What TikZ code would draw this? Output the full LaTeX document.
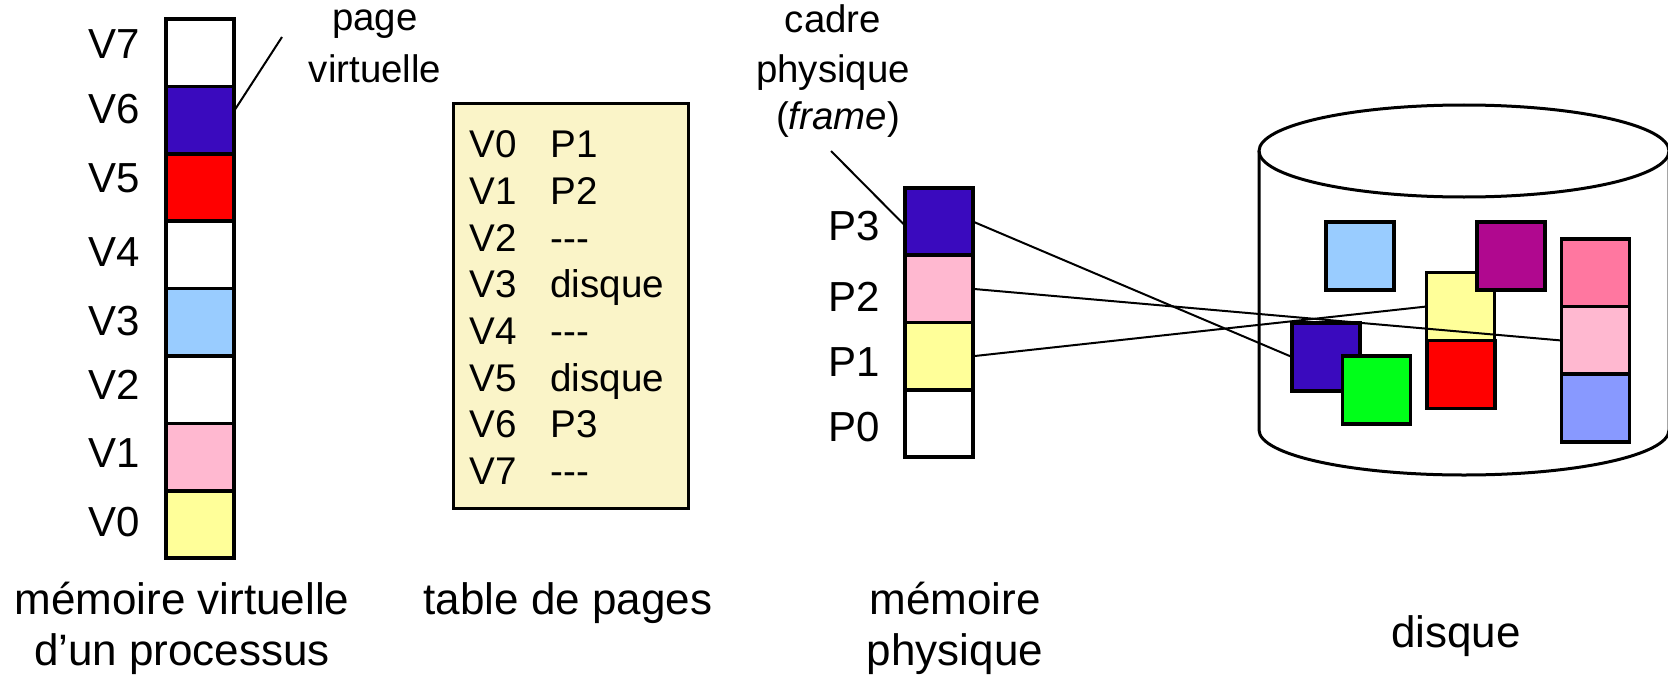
\documentclass[tikz,border=0pt]{standalone}
\usepackage{fontspec}
\setmainfont{Liberation Sans}
\definecolor{vdarkblue}{RGB}{58,10,190}
\definecolor{vred}{RGB}{255,0,0}
\definecolor{vlightblue}{RGB}{153,204,255}
\definecolor{vpink}{RGB}{255,184,208}
\definecolor{vyellow}{RGB}{255,255,153}
\definecolor{vgreen}{RGB}{0,255,25}
\definecolor{vpurple}{RGB}{176,8,143}
\definecolor{vhotpink}{RGB}{255,119,160}
\definecolor{vlavender}{RGB}{136,153,255}
\definecolor{tabfill}{RGB}{250,244,200}
\def\nodash{-{}-{}-}
\begin{document}
\begin{tikzpicture}[x=0.5pt,y=-0.5pt,
  cell/.style={draw, line width=1.8pt, minimum width=34pt, minimum height=33.7pt, inner sep=0pt, outer sep=0pt},
  dcell/.style={cell, minimum height=34pt},
  lbl/.style={font=\fontsize{21}{25}\selectfont, anchor=base west, inner sep=0pt},
  tbltxt/.style={font=\fontsize{19.3}{23}\selectfont, anchor=base west, inner sep=0pt},
  note/.style={font=\fontsize{19.2}{23}\selectfont, anchor=base, inner sep=0pt},
  caption/.style={font=\fontsize{22}{26}\selectfont, anchor=base, inner sep=0pt},
  lead/.style={line width=1pt},
  link/.style={line width=1pt}]
\useasboundingbox (0,0) rectangle (1668,674);

% virtual memory of the process
\foreach \n/\c/\ly [count=\k from 0] in {7/white/44,6/vdarkblue/109,5/vred/177,4/white/251,3/vlightblue/320,2/white/384,1/vpink/452,0/vyellow/521} {
  \node[cell, fill=\c] (v\n) at (200, {52.7+67.4*\k}) {};
  \node[lbl] (lv\n) at (88, {\ly+15}) {V\n};
}
\coordinate (pvend) at (282,37);
\draw[lead] ([yshift=4.5pt]v6.east) -- (pvend);
\node[note] (pg) at (375,31) {page};
\node[note] (vt) at (375,83) {virtuelle};

% page table
\node[draw, line width=1.5pt, fill=tabfill, minimum width=117.5pt, minimum height=202pt, inner sep=0pt, outer sep=0pt] (tbl) at (570.5,306) {};
\foreach \v/\p [count=\k from 0] in {0/P1,1/P2,2/\nodash,3/disque,4/\nodash,5/disque,6/P3,7/\nodash} {
  \node[tbltxt] (tv\v) at (469, {157.6+46.7*\k}) {V\v};
  \node[tbltxt] (tp\v) at (550, {157.6+46.7*\k}) {\p};
}

% physical memory
\foreach \n/\c/\ly [count=\k from 0] in {3/vdarkblue/225,2/vpink/296,1/vyellow/361,0/white/426} {
  \node[cell, fill=\c] (p\n) at (939, {221.6+67.3*\k}) {};
  \node[lbl] (lp\n) at (828, {\ly+15}) {P\n};
}
\coordinate (cpend) at (831,151);
\draw[lead] (cpend) -- ([yshift=-2pt]p3.west);
\node[note] (cd) at (833,33) {cadre};
\node[note] (ph) at (833,83) {physique};
\node[note] (fr) at (838,129) {(\textit{frame})};

% disk
\begin{scope}
  \clip (0,0) rectangle (1668,674);
  \draw[line width=1.5pt] (1259,151) -- (1259,430)
    arc[start angle=180, end angle=360, x radius=102.5pt, y radius=22.5pt] -- (1669,151);
  \draw[line width=1.5pt] (1464,151) ellipse [x radius=102.5pt, y radius=23pt];
\end{scope}
\node[dcell, fill=vlightblue] (dlb) at (1360,256) {};
\node[dcell, fill=vyellow] (dy) at (1460.5,306.5) {};
\node[dcell, fill=vred] (dr) at (1461,374.5) {};
\node[dcell, fill=vpurple] (dpu) at (1511,256) {};
\node[dcell, fill=vdarkblue] (db) at (1326,357) {};
\node[dcell, fill=vgreen] (dg) at (1376.5,390) {};
\node[dcell, fill=vhotpink] (dh) at (1595.5,273) {};
\node[dcell, fill=vpink] (dp) at (1595.5,340.5) {};
\node[dcell, fill=vlavender] (dl) at (1595.5,408) {};

% frame-to-disk links
\draw[link] (p3.east) -- (db.west);
\draw[link] (p2.east) -- (dp.west);
\draw[link] (p1.east) -- (dy.west);

% captions
\node[caption] (mv1) at (182,614) {mémoire virtuelle};
\node[caption] (mv2) at (182,665) {d’un processus};
\node[caption] (tdp) at (568,614) {table de pages};
\node[caption] (mp1) at (955,614) {mémoire};
\node[caption] (mp2) at (955,665) {physique};
\node[caption] (dk) at (1456,647) {disque};
\end{tikzpicture}
\end{document}
